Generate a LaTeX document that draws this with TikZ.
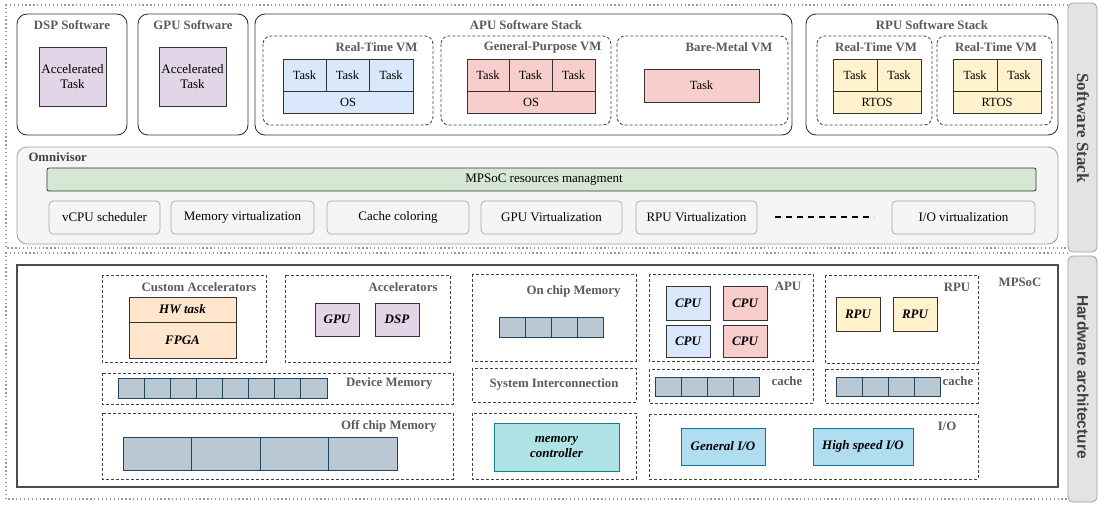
\documentclass[tikz,border=0pt]{standalone}
\usepackage{fontspec}
\setmainfont{Liberation Serif}
\newfontfamily\tabsans{Liberation Sans}
\usepackage{xcolor}
\usepackage{tikz}

\definecolor{accpurple}{HTML}{E1D5E7}
\definecolor{apublue}{HTML}{DAE8FC}
\definecolor{gppink}{HTML}{F8CECC}
\definecolor{rpuyellow}{HTML}{FFF2CC}
\definecolor{mgmtgreen}{HTML}{D5E8D4}
\definecolor{fpgaorange}{HTML}{FFE6CC}
\definecolor{memcell}{HTML}{BAC8D3}
\definecolor{memedge}{HTML}{23445D}
\definecolor{ctrlteal}{HTML}{B0E3E6}
\definecolor{ctrledge}{HTML}{0E8088}
\definecolor{iofill}{HTML}{B1DDF0}
\definecolor{ioedge}{HTML}{10739E}
\definecolor{omnifill}{HTML}{F5F5F5}
\definecolor{tabfill}{HTML}{E3E3E3}
\definecolor{titlegray}{HTML}{5A5A5A}

\begin{document}
\begin{tikzpicture}[x=1pt,y=-1pt,
    font=\fontsize{13}{15}\selectfont,
    dotframe/.style={draw=gray!80, line width=1.3pt, dash pattern=on 1.3pt off 2.6pt},
    swbox/.style={draw=black!80, line width=0.9pt, rounded corners=10pt},
    vmbox/.style={draw=black!75, line width=0.8pt, dash pattern=on 3pt off 2pt, rounded corners=8pt},
    hwbox/.style={draw=black!75, line width=0.8pt, dash pattern=on 3pt off 2pt},
    cell/.style={draw=black!80, line width=0.8pt},
    mem/.style={draw=memedge, fill=memcell, line width=0.8pt},
    virt/.style={draw=gray!70, line width=0.7pt, rounded corners=4pt},
    tabbox/.style={draw=gray!75, fill=tabfill, line width=0.8pt, rounded corners=5pt},
    title/.style={font=\fontsize{12.8}{14}\selectfont\bfseries, text=titlegray},
    hwtext/.style={font=\fontsize{13}{15}\selectfont\bfseries\itshape},
    tasktext/.style={font=\fontsize{12.5}{14}\selectfont}]
    \useasboundingbox (0,0) rectangle (1098,504);

    % outer frames and side tabs
    \draw[dotframe] (1068,5) -- (6,5) -- (6,248) -- (1068,248);
    \draw[dotframe] (1068,253) -- (6,253) -- (6,499) -- (1068,499);
    \draw[tabbox] (1068,3) rectangle (1097,252);
    \draw[tabbox] (1068,256) rectangle (1097,502);
    \node[rotate=-90, font=\fontsize{17}{18}\selectfont\bfseries, text=black!75] (swtab) at (1083,128) {Software Stack};
    \node[rotate=-90, font=\tabsans\fontsize{15.5}{17}\selectfont\bfseries, text=black!75] (hwtab) at (1083,377) {Hardware architecture};

    % DSP and GPU software
    \draw[swbox] (17,14) rectangle (127,135);
    \node[title] (dspsw) at (72,25) {DSP Software};
    \draw[cell, fill=accpurple] (39,47) rectangle (106,106);
    \node[align=center] (dsptask) at (72.5,76.5) {Accelerated\\Task};
    \draw[swbox] (138,14) rectangle (248,135);
    \node[title] (gpusw) at (193,25) {GPU Software};
    \draw[cell, fill=accpurple] (159,47) rectangle (226,106);
    \node[align=center] (gputask) at (192.5,76.5) {Accelerated\\Task};

    % APU software stack
    \draw[swbox] (255,14) rectangle (792,135);
    \node[title] (apusw) at (526,25) {APU Software Stack};
    \draw[vmbox] (263,36) rectangle (433,125);
    \node[title, anchor=east] (rtvm) at (421,47) {Real-Time VM};
    \draw[cell, fill=apublue] (283,59) rectangle (413,113);
    \draw[cell] (283,91) -- (413,91) (326,59) -- (326,91) (369,59) -- (369,91);
    \foreach \x/\n in {304.5/1, 347.5/2, 391/3}
        \node[tasktext] (rtt\n) at (\x,75) {Task};
    \node[tasktext] (rtos) at (348,102) {OS};
    \draw[vmbox] (441,36) rectangle (611,125);
    \node[title, anchor=east] (gpvm) at (605,47) {General-Purpose VM};
    \draw[cell, fill=gppink] (467,59) rectangle (595,113);
    \draw[cell] (467,91) -- (595,91) (509,59) -- (509,91) (552,59) -- (552,91);
    \foreach \x/\n in {488/1, 530.5/2, 573.5/3}
        \node[tasktext] (gpt\n) at (\x,75) {Task};
    \node[tasktext] (gpos) at (531,102) {OS};
    \draw[vmbox] (617,36) rectangle (788,125);
    \node[title, anchor=east] (bmvm) at (776,47) {Bare-Metal VM};
    \draw[cell, fill=gppink] (644,69) rectangle (759,102);
    \node[tasktext] (bmt) at (701.5,85.5) {Task};

    % RPU software stack
    \draw[swbox] (806,14) rectangle (1058,135);
    \node[title] (rpusw) at (932,25) {RPU Software Stack};
    \foreach \l/\n in {817/1, 937/2} {
        \draw[vmbox] (\l,36) rectangle (\l+115,125);
        \node[title] (rpuvm\n) at (\l+59,47) {Real-Time VM};
        \draw[cell, fill=rpuyellow] (\l+16,59) rectangle (\l+104,113);
        \draw[cell] (\l+16,91) -- (\l+104,91) (\l+60,59) -- (\l+60,91);
        \node[tasktext] (rpuva\n) at (\l+38,75) {Task};
        \node[tasktext] (rpuvb\n) at (\l+82,75) {Task};
        \node[tasktext] (rpuos\n) at (\l+60,102) {RTOS};
    }

    % Omnivisor
    \draw[draw=gray!75, fill=omnifill, line width=0.8pt, rounded corners=10pt] (17,147) rectangle (1058,244);
    \node[anchor=west, font=\fontsize{12.8}{14}\selectfont\bfseries, text=black!75] (omni) at (25,157) {Omnivisor};
    \draw[draw=black!80, fill=mgmtgreen, line width=0.8pt, rounded corners=2pt] (47,168) rectangle (1036,191);
    \node (mgmt) at (544,179.5) {MPSoC resources managment};
    \foreach \a/\b/\n/\t in {49/160/vcpu/{vCPU scheduler}, 171/314/memv/{Memory virtualization},
        327/469/cache/{Cache coloring}, 481/622/gpuv/{GPU Virtualization},
        636/757/rpuv/{RPU Virtualization}, 892/1035/iov/{I/O virtualization}} {
        \draw[virt] (\a,201) rectangle (\b,234);
        \node (\n) at ({(\a+\b)/2},217.5) {\t};
    }
    \draw[line width=1.6pt, dash pattern=on 6pt off 5pt] (775,217) -- (874,217);

    % MPSoC
    \draw[draw=black!70, line width=1.1pt] (17,265) rectangle (1058,487);
    \node[title] (mpsoc) at (1020,282) {MPSoC};

    % custom accelerators and accelerators
    \draw[hwbox] (102,275) rectangle (266,362);
    \node[title, anchor=east] (custacc) at (260,287) {Custom Accelerators};
    \draw[cell, fill=fpgaorange] (129,297) rectangle (236,358);
    \draw[cell] (129,322) -- (236,322);
    \node[hwtext] (hwtask) at (182.5,309.5) {HW task};
    \node[hwtext] (fpga) at (182.5,340) {FPGA};
    \draw[hwbox] (285,275) rectangle (450,362);
    \node[title, anchor=east] (acc) at (441,287) {Accelerators};
    \draw[cell, fill=accpurple] (315,303) rectangle (359,336);
    \node[hwtext] (gpu) at (337,319.5) {GPU};
    \draw[cell, fill=accpurple] (375,303) rectangle (419,336);
    \node[hwtext] (dsp) at (397,319.5) {DSP};

    % memories
    \draw[hwbox] (102,373) rectangle (453,404);
    \node[title, anchor=east] (devmem) at (436,383) {Device Memory};
    \foreach \i in {0,...,7}
        \draw[mem] (118+26.125*\i,378) rectangle (118+26.125*\i+26.125,398);
    \draw[hwbox] (102,413) rectangle (453,479);
    \node[title, anchor=east] (offmem) at (440,426) {Off chip Memory};
    \foreach \i in {0,...,3}
        \draw[mem] (123+68.5*\i,437) rectangle (123+68.5*\i+68.5,470);
    \draw[hwbox] (472,274) rectangle (636,361);
    \node[title, anchor=east] (onmem) at (624,291) {On chip Memory};
    \foreach \i in {0,...,3}
        \draw[mem] (499+26*\i,317) rectangle (525+26*\i,337);

    % interconnection and memory controller
    \draw[hwbox] (472,368) rectangle (636,402);
    \node[title] (sysic) at (554,384) {System Interconnection};
    \draw[hwbox] (472,413) rectangle (636,479);
    \draw[draw=ctrledge, fill=ctrlteal, line width=0.9pt] (494,423) rectangle (619,471);
    \node[hwtext, align=center] (memctrl) at (556.5,447) {memory\\controller};

    % APU
    \draw[hwbox] (649,274) rectangle (813,361);
    \node[title] (apu) at (788,286) {APU};
    \draw[cell, fill=apublue] (666,286) rectangle (710,320);
    \node[hwtext] (cpua) at (688,303) {CPU};
    \draw[cell, fill=gppink] (723,286) rectangle (767,320);
    \node[hwtext] (cpub) at (745,303) {CPU};
    \draw[cell, fill=apublue] (666,325) rectangle (710,357);
    \node[hwtext] (cpuc) at (688,341) {CPU};
    \draw[cell, fill=gppink] (723,325) rectangle (767,357);
    \node[hwtext] (cpud) at (745,341) {CPU};
    \draw[hwbox] (649,369) rectangle (813,403);
    \foreach \i in {0,...,3}
        \draw[mem] (655+26*\i,377) rectangle (681+26*\i,396);
    \node[title] (apucache) at (787,381) {cache};

    % RPU
    \draw[hwbox] (825,275) rectangle (978,363);
    \node[title] (rpu) at (957,287) {RPU};
    \draw[cell, fill=rpuyellow] (836,297) rectangle (880,331);
    \node[hwtext] (rpua) at (858,314) {RPU};
    \draw[cell, fill=rpuyellow] (893,297) rectangle (937,331);
    \node[hwtext] (rpub) at (915,314) {RPU};
    \draw[hwbox] (825,369) rectangle (978,403);
    \foreach \i in {0,...,3}
        \draw[mem] (836+26*\i,377) rectangle (862+26*\i,396);
    \node[title] (rpucache) at (958,381) {cache};

    % I/O
    \draw[hwbox] (649,414) rectangle (978,479);
    \node[title] (io) at (947,426) {I/O};
    \draw[draw=ioedge, fill=iofill, line width=0.9pt] (681,428) rectangle (765,465);
    \node[hwtext] (genio) at (723,446.5) {General I/O};
    \draw[draw=ioedge, fill=iofill, line width=0.9pt] (813,428) rectangle (913,465);
    \node[hwtext] (hsio) at (863,446.5) {High speed I/O};
\end{tikzpicture}
\end{document}
